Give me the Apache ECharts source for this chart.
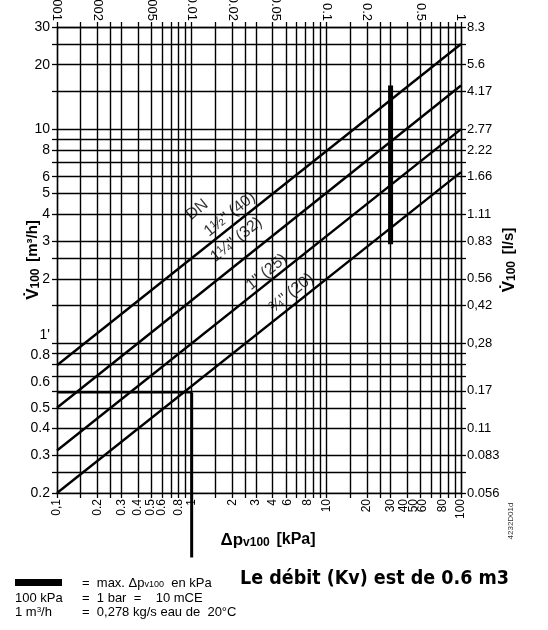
<!DOCTYPE html>
<html><head><meta charset="utf-8">
<script src="https://cdn.jsdelivr.net/npm/echarts@6/dist/echarts.min.js"></script>
<style>html,body{margin:0;padding:0;background:#fff}#c{width:548px;height:630px}</style>
</head><body><div id="c"></div>
<script>
// Δp grid (kPa) and flow grid (m3/h)
const gridX = [0.1,0.15,0.2,0.25,0.3,0.4,0.5,0.6,0.7,0.8,0.9,1,1.5,2,2.5,3,4,5,6,7,8,9,10,15,20,25,30,40,50,60,70,80,90,100];
const gridY = [0.2,0.25,0.3,0.4,0.5,0.6,0.7,0.8,0.9,1,1.5,2,2.5,3,4,5,6,7,8,9,10,15,20,25,30];
// tick labels (text and where they sit on the axis)
const bottomLabelText = ['0,1','0.2','0.3','0.4','0.5','0.6','0.8','1','2','3','4','6','8','10','20','30','40','50','60','80','100'];
const bottomLabelAt   = [0.1,0.2,0.3,0.4,0.5,0.6,0.8,1,2,3,4,5.2,7.3,10,20,30,37.5,44.5,52,73,100];
const topLabelText = ['0.001','0.002','0.005','0.01','0.02','0.05','0.1','0.2','0.5','1'];
const topLabelAt   = [0.1,0.2,0.5,1,2,4.2,10,20,50,100];
const leftLabelText = ['30','20','10','8','6','5','4','3','2',"1'",'0.8','0.6','0.5','0.4','0.3','0.2'];
const leftLabelAt   = [30,20,10,8,6,5,4,3,2,1.09,0.88,0.66,0.5,0.4,0.3,0.2];
const rightLabelText = ['8.3','5.6','4.17','2.77','2.22','1.66','1.11','0.83','0.56','0,42','0,28','0.17','0.11','0.083','0.056'];
const rightLabelAt   = [30,20,15,10,8,6,4,3,2,1.5,1,0.6,0.4,0.3,0.2];
// Kv lines: flow at 0.1 kPa and at 100 kPa
const kvLineDp = [0.1, 100];
const kvLineStart = [0.79, 0.5, 0.316, 0.2];
const kvLineEnd   = [25, 16, 10, 6.3];
// max Δp bar
const maxDp = 30;
const maxBarV = [2.9, 16];
// Kv 0.6 marker
const markerV = 0.59;
const markerDp = 1;
const markerLowV = 0.1;
// line labels
const lineLabelText = ['DN', '1½" (40)', '1¼" (32)', '1" (25)', '¾" (20)'];
const lineLabelDp = [1.1, 1.92, 2.15, 3.6, 5.5];
const lineLabelV  = [4.2, 4.0, 3.05, 2.15, 1.72];

const L = Math.log10;
const xMin = L(0.1), xMax = L(100), yMin = L(0.2), yMax = L(30);
function makeFmt(at, text){
  const logs = at.map(L);
  return v => { let bi=0, bd=Infinity; logs.forEach((l,i)=>{const d=Math.abs(l-v); if(d<bd){bd=d;bi=i;}}); return text[bi]; };
}
const FF = 'Liberation Sans';
const blk = {color:'#000', width:1.3};

const gridLines = [
  ...gridX.map(v=>({coords:[[L(v), yMin],[L(v), yMax]]})),
  ...gridY.map(v=>({coords:[[xMin, L(v)],[xMax, L(v)]]}))
];

const series = [
  {type:'lines', coordinateSystem:'cartesian2d', silent:true, z:1,
   lineStyle:{color:'#000', width:1.4, opacity:1}, data: gridLines}
];
kvLineStart.forEach((s,i)=>{
  series.push({type:'line', symbol:'none', silent:true, z:3,
    lineStyle:{color:'#000', width:2.4},
    data:[[L(kvLineDp[0]), L(s)],[L(kvLineDp[1]), L(kvLineEnd[i])]]});
});
series.push({type:'line', symbol:'none', silent:true, z:4,
  lineStyle:{color:'#000', width:5, cap:'butt'},
  data:[[L(maxDp), L(maxBarV[0])],[L(maxDp), L(maxBarV[1])]]});
series.push({type:'line', symbol:'none', silent:true, z:4,
  lineStyle:{color:'#000', width:2},
  data:[[xMin, L(markerV)],[L(markerDp), L(markerV)]]});
series.push({type:'line', symbol:'none', silent:true, z:4, clip:false,
  lineStyle:{color:'#000', width:3, cap:'butt'},
  data:[[L(markerDp), L(markerV)],[L(markerDp), L(markerLowV)]]});
series.push({type:'scatter', symbolSize:0, silent:true, z:5,
  data: lineLabelText.map((t,i)=>({value:[L(lineLabelDp[i]), L(lineLabelV[i])], name:t})),
  label:{show:true, position:'inside', formatter:p=>p.name, rotate:39,
    fontSize:16, fontFamily:FF, color:'#000'}
});

const richName = {
  v:{fontSize:17, fontWeight:'bold', fontFamily:FF, color:'#000'},
  s:{fontSize:12, fontWeight:'bold', fontFamily:FF, color:'#000', verticalAlign:'bottom', padding:[6,0,0,0]},
  u:{fontSize:15, fontWeight:'bold', fontFamily:FF, color:'#000'}
};

const chart = echarts.init(document.getElementById('c'), null, {renderer:'canvas'});
chart.setOption({
  animation:false,
  backgroundColor:'#fff',
  grid:{left:57, right:87, top:27, bottom:137, outerBoundsMode:'none', containLabel:false},
  xAxis:[
    {type:'value', position:'bottom', min:xMin, max:xMax,
     axisLine:{show:true, onZero:false, lineStyle:blk},
     axisTick:{show:true, customValues:gridX.map(L), length:5, lineStyle:blk},
     axisLabel:{customValues:bottomLabelAt.map(L), formatter:makeFmt(bottomLabelAt,bottomLabelText),
       rotate:90, margin:6, fontSize:12, fontFamily:FF, color:'#000'},
     splitLine:{show:false},
     name:'{d|Δp}{s|v100}  {u|[kPa]}', nameLocation:'middle', nameGap:38, nameMoveOverlap:false,
     nameTextStyle:{padding:[0,0,0,18], rich:{
       d:{fontSize:17, fontWeight:'bold', fontFamily:FF, color:'#000'},
       s:{fontSize:12, fontWeight:'bold', fontFamily:FF, color:'#000', verticalAlign:'bottom', padding:[6,0,0,0]},
       u:{fontSize:16, fontWeight:'bold', fontFamily:FF, color:'#000'}}}
    },
    {type:'value', position:'top', min:xMin, max:xMax,
     axisLine:{show:true, onZero:false, lineStyle:blk},
     axisTick:{show:true, customValues:gridX.map(L), length:5, lineStyle:blk},
     axisLabel:{customValues:topLabelAt.map(L), formatter:makeFmt(topLabelAt,topLabelText),
       rotate:90, margin:6, fontSize:13, fontFamily:FF, color:'#000'},
     splitLine:{show:false}
    }
  ],
  yAxis:[
    {type:'value', position:'left', min:yMin, max:yMax,
     axisLine:{show:true, onZero:false, lineStyle:blk},
     axisTick:{show:true, customValues:gridY.map(L), length:5, lineStyle:blk},
     axisLabel:{customValues:leftLabelAt.map(L), formatter:makeFmt(leftLabelAt,leftLabelText),
       margin:7, fontSize:14, fontFamily:FF, color:'#000'},
     splitLine:{show:false},
     name:'{v|V\u0307}{s|100}  {u|[m³/h]}', nameLocation:'middle', nameRotate:90, nameGap:15, nameMoveOverlap:false,
     nameTextStyle:{rich:richName}
    },
    {type:'value', position:'right', min:yMin, max:yMax,
     axisLine:{show:true, onZero:false, lineStyle:blk},
     axisTick:{show:true, customValues:gridY.map(L), length:5, lineStyle:blk},
     axisLabel:{customValues:rightLabelAt.map(L), formatter:makeFmt(rightLabelAt,rightLabelText),
       margin:6, fontSize:13, fontFamily:FF, color:'#000'},
     splitLine:{show:false},
     name:'{v|V\u0307}{s|100}  {u|[l/s]}', nameLocation:'middle', nameRotate:90, nameGap:39, nameMoveOverlap:false,
     nameTextStyle:{rich:richName}
    }
  ],
  series: series,
  graphic:[
    {type:'rect', left:15, top:579, shape:{width:47, height:7}, style:{fill:'#000'}},
    {type:'text', x:82, y:583, style:{text:'=  max. {d|Δp}{s|v100}  en kPa', fontSize:13, fontFamily:FF, fill:'#000', verticalAlign:'middle',
      rich:{d:{fontSize:13, fontFamily:FF}, s:{fontSize:9, fontFamily:FF, verticalAlign:'bottom', padding:[4,0,0,0]}}}},
    {type:'text', x:15, y:598, style:{text:'100 kPa', fontSize:13, fontFamily:FF, fill:'#000', verticalAlign:'middle'}},
    {type:'text', x:82, y:598, style:{text:'=  1 bar  =    10 mCE', fontSize:13, fontFamily:FF, fill:'#000', verticalAlign:'middle'}},
    {type:'text', x:15, y:612, style:{text:'1 m{p|3}/h', fontSize:13, fontFamily:FF, fill:'#000', verticalAlign:'middle',
      rich:{p:{fontSize:8, fontFamily:FF, verticalAlign:'top', padding:[0,0,5,0]}}}},
    {type:'text', x:82, y:612, style:{text:'=  0,278 kg/s eau de  20°C', fontSize:13, fontFamily:FF, fill:'#000', verticalAlign:'middle'}},
    {type:'text', x:240, y:579, style:{text:'Le débit (Kv) est de 0.6 m3', fontSize:19.5, fontWeight:'bold', fontFamily:'DejaVu Sans Condensed, DejaVu Sans', fill:'#000', verticalAlign:'middle'}},
    {type:'text', x:511, y:521, rotation:Math.PI/2, style:{text:'4232D01d', fontSize:8, fontFamily:FF, fill:'#333', align:'center', verticalAlign:'middle'}}
  ]
});
</script></body></html>
